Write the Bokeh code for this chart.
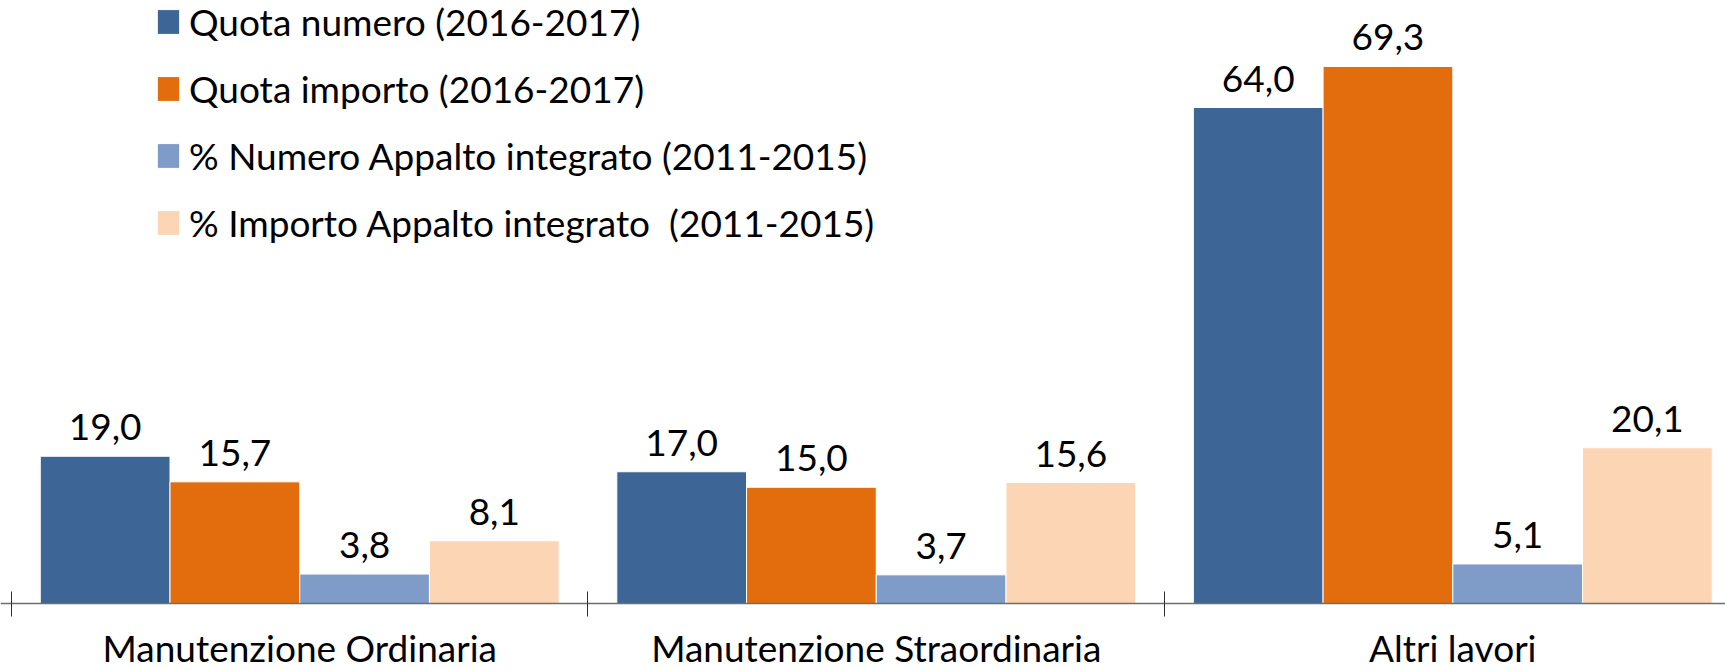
from bokeh.plotting import figure
from bokeh.models import ColumnDataSource, FixedTicker, Legend, LegendItem, Range1d
from bokeh.core.properties import value
from bokeh.embed import file_html
from bokeh.resources import INLINE

categories = ["Manutenzione Ordinaria", "Manutenzione Straordinaria", "Altri lavori"]
series_names = [
    "Quota numero (2016-2017)",
    "Quota importo (2016-2017)",
    "% Numero Appalto integrato (2011-2015)",
    "% Importo Appalto integrato  (2011-2015)",
]
quota_numero = [19.0, 17.0, 64.0]
quota_importo = [15.7, 15.0, 69.3]
numero_appalto = [3.8, 3.7, 5.1]
importo_appalto = [8.1, 15.6, 20.1]
series_values = [quota_numero, quota_importo, numero_appalto, importo_appalto]
colors = ["#3D6696", "#E36C0C", "#7F9CC8", "#FCD5B5"]

FONT = "Lato"
FS = "37px"

W, H = 1725, 670
p = figure(width=W, height=H, output_backend="svg", toolbar_location=None,
           x_range=Range1d(-0.519, 2.473), y_range=Range1d(-8.645, 77.81),
           y_axis_location=None,
           min_border_left=0, min_border_right=0, min_border_top=0, min_border_bottom=0)
p.outline_line_color = None
p.xgrid.visible = False
p.ygrid.visible = False
p.background_fill_color = "white"
p.border_fill_color = "white"

n = len(categories)
k = len(series_values)
group_w = 0.9
bw = group_w / k
items = []
for i, (name, vals, col) in enumerate(zip(series_names, series_values, colors)):
    off = -group_w / 2 + bw * (i + 0.5)
    src = ColumnDataSource(dict(
        x=[j + off for j in range(n)],
        top=vals,
        label=[f"{v:.1f}".replace(".", ",") for v in vals],
    ))
    r = p.vbar(x="x", top="top", width=bw, source=src, fill_color=col,
               line_color="white", line_width=1)
    p.text(x="x", y="top", text="label", source=src, text_align="center",
           text_baseline="alphabetic", y_offset=-29, text_font=value(FONT),
           text_font_size=FS, text_color="black")
    items.append(LegendItem(label=name, renderers=[r]))

ax = p.xaxis[0]
ax.fixed_location = 0
ax.ticker = FixedTicker(ticks=list(range(n)), minor_ticks=[j - 0.5 for j in range(n + 1)])
ax.major_label_overrides = {j: c for j, c in enumerate(categories)}
ax.major_tick_in = 0
ax.major_tick_out = 0
ax.minor_tick_in = 12
ax.minor_tick_out = 13
ax.minor_tick_line_color = "#303030"
ax.axis_line_color = "#6e6e6e"
ax.axis_line_width = 1.5
ax.major_label_standoff = 8
ax.major_label_text_font = FONT
ax.major_label_text_font_size = FS
ax.major_label_text_color = "black"

legend = Legend(items=items, location=(154, 425), orientation="vertical",
                glyph_width=28, glyph_height=31, label_standoff=7,
                label_text_font=FONT, label_text_font_size=FS, label_text_color="black",
                spacing=22, padding=0, margin=0, border_line_color=None,
                background_fill_alpha=0)
p.add_layout(legend)

open("out.html", "w").write(file_html(p, INLINE))
